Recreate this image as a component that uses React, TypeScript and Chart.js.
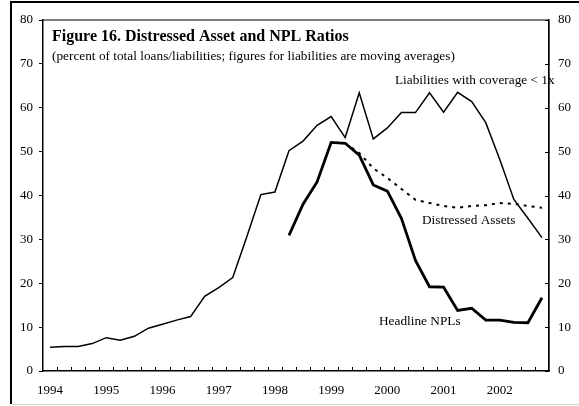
import { useEffect, useRef } from 'react';
import { Chart, registerables } from 'chart.js';

Chart.register(...registerables);

const quarters = [
  '1994Q1', '1994Q2', '1994Q3', '1994Q4',
  '1995Q1', '1995Q2', '1995Q3', '1995Q4',
  '1996Q1', '1996Q2', '1996Q3', '1996Q4',
  '1997Q1', '1997Q2', '1997Q3', '1997Q4',
  '1998Q1', '1998Q2', '1998Q3', '1998Q4',
  '1999Q1', '1999Q2', '1999Q3', '1999Q4',
  '2000Q1', '2000Q2', '2000Q3', '2000Q4',
  '2001Q1', '2001Q2', '2001Q3', '2001Q4',
  '2002Q1', '2002Q2', '2002Q3', '2002Q4',
];

const yearTickLabels = ['1994', '1995', '1996', '1997', '1998', '1999', '2000', '2001', '2002'];

const liabilities = [
  5.4, 5.6, 5.6, 6.25, 7.6, 7.0, 7.9, 9.75, 10.65, 11.6, 12.4, 17.0,
  19.0, 21.3, 30.6, 40.2, 40.8, 50.2, 52.4, 56.0, 58.0, 53.2, 63.4, 52.9,
  55.4, 58.9, 58.9, 63.4, 59.0, 63.5, 61.4, 56.6, 48.2, 39.1, 34.8, 30.4,
];

const headlineNPLs = [
  null, null, null, null, null, null, null, null, null, null, null, null,
  null, null, null, null, null, 30.9, 38.0, 43.1, 52.1, 51.9, 49.2, 42.4,
  41.0, 34.8, 25.2, 19.2, 19.1, 13.8, 14.3, 11.6, 11.6, 11.1, 11.0, 16.7,
];

const distressedAssets = [
  null, null, null, null, null, null, null, null, null, null, null, null,
  null, null, null, null, null, null, null, null, null, 51.9, 49.7, 46.2,
  44.0, 41.5, 39.0, 38.3, 37.6, 37.2, 37.6, 37.8, 38.3, 38.1, 37.6, 37.2,
];

const titleText = 'Figure 16. Distressed Asset and NPL Ratios';
const subtitleText = '(percent of total loans/liabilities; figures for liabilities are moving averages)';
const seriesNames = ['Liabilities with coverage < 1x', 'Headline NPLs', 'Distressed Assets'];

const FONT = "'Times New Roman', 'Liberation Serif', serif";

const decorPlugin = {
  id: 'decor',
  beforeDraw(chart: any) {
    const { ctx, width } = chart;
    ctx.save();
    ctx.fillStyle = '#ffffff';
    ctx.fillRect(0, 0, chart.width, chart.height);
    ctx.strokeStyle = '#000';
    ctx.lineWidth = 2;
    ctx.beginPath();
    ctx.moveTo(11, 404);
    ctx.lineTo(11, 2);
    ctx.lineTo(width + 5, 2);
    ctx.stroke();
    ctx.strokeStyle = '#d0d0d0';
    ctx.lineWidth = 1;
    ctx.beginPath();
    ctx.moveTo(12, 404.5);
    ctx.lineTo(width, 404.5);
    ctx.stroke();
    ctx.restore();
  },
  afterDraw(chart: any) {
    const { ctx, chartArea } = chart;
    const { left, right, top, bottom } = chartArea;
    const xs = chart.scales.x;
    const yr = chart.scales.y2;
    ctx.save();
    ctx.strokeStyle = '#000';
    ctx.lineWidth = 1.2;
    ctx.beginPath();
    ctx.moveTo(left, top);
    ctx.lineTo(right, top);
    ctx.lineTo(right, bottom);
    ctx.stroke();
    ctx.lineWidth = 1;
    ctx.beginPath();
    for (let i = 1; i < quarters.length; i++) {
      const x = Math.round((xs.getPixelForValue(i - 1) + xs.getPixelForValue(i)) / 2) + 0.5;
      ctx.moveTo(x, bottom);
      ctx.lineTo(x, bottom - 4);
    }
    for (let v = 0; v <= 80; v += 10) {
      const y = Math.round(yr.getPixelForValue(v)) + 0.5;
      ctx.moveTo(right, y);
      ctx.lineTo(right - 4, y);
    }
    ctx.stroke();
    ctx.fillStyle = '#000';
    ctx.textBaseline = 'middle';
    ctx.textAlign = 'left';
    ctx.font = `bold 16px ${FONT}`;
    ctx.fillText(titleText, 52, 37);
    ctx.font = `13.3px ${FONT}`;
    ctx.fillText(subtitleText, 52, 57);
    ctx.fillText(seriesNames[0], 395, 81);
    ctx.fillText(seriesNames[1], 379, 322);
    ctx.fillText(seriesNames[2], 422, 221);
    ctx.restore();
  },
};

export default function App() {
  const ref = useRef<HTMLCanvasElement | null>(null);
  useEffect(() => {
    if (!ref.current) return;
    const tickFont = { family: FONT, size: 13 };
    const chart = new Chart(ref.current, {
      type: 'line',
      data: {
        labels: quarters,
        datasets: [
          {
            label: seriesNames[0],
            data: liabilities,
            borderColor: '#000',
            borderWidth: 1.5,
            pointRadius: 0,
            tension: 0,
            yAxisID: 'y',
          },
          {
            label: seriesNames[2],
            data: distressedAssets,
            borderColor: '#000',
            borderWidth: 2,
            borderDash: [3, 5],
            pointRadius: 0,
            tension: 0,
            yAxisID: 'y',
          },
          {
            label: seriesNames[1],
            data: headlineNPLs,
            borderColor: '#000',
            borderWidth: 2.8,
            pointRadius: 0,
            tension: 0,
            yAxisID: 'y',
          },
        ],
      },
      options: {
        responsive: false,
        animation: false,
        devicePixelRatio: 1,
        layout: { padding: { top: 20, left: 0, right: 0, bottom: 0 } },
        plugins: {
          legend: { display: false },
          title: { display: false },
          tooltip: { enabled: false },
        },
        scales: {
          x: {
            type: 'category',
            offset: true,
            grid: { display: false, drawTicks: false, offset: true },
            border: { display: true, color: '#000', width: 1.5 },
            ticks: {
              autoSkip: false,
              maxRotation: 0,
              padding: 12,
              color: '#000',
              font: tickFont,
              callback: (_v: any, i: number) => {
                const q = quarters[i];
                if (q && q.endsWith('Q1')) {
                  const yr = q.slice(0, 4);
                  return yearTickLabels.includes(yr) ? yr : '';
                }
                return '';
              },
            },
            afterFit: (s: any) => { s.height = 35; },
          },
          y: {
            position: 'left',
            min: 0,
            max: 80,
            grid: { display: true, drawOnChartArea: false, drawTicks: true, tickLength: 4, color: '#000' },
            border: { display: true, color: '#000', width: 1.5 },
            ticks: { stepSize: 10, padding: 6, color: '#000', font: tickFont },
            afterFit: (s: any) => { s.width = 43; },
          },
          y2: {
            position: 'right',
            min: 0,
            max: 80,
            grid: { display: false, drawTicks: false },
            border: { display: true, color: '#000', width: 1.2 },
            ticks: { stepSize: 10, padding: 9, color: '#000', font: tickFont },
            afterFit: (s: any) => { s.width = 30; },
          },
        },
      },
      plugins: [decorPlugin],
    });
    return () => chart.destroy();
  }, []);
  return (
    <canvas
      ref={ref}
      width={579}
      height={406}
      style={{ position: 'fixed', left: 0, top: 0, display: 'block', width: 579, height: 406 }}
    />
  );
}
